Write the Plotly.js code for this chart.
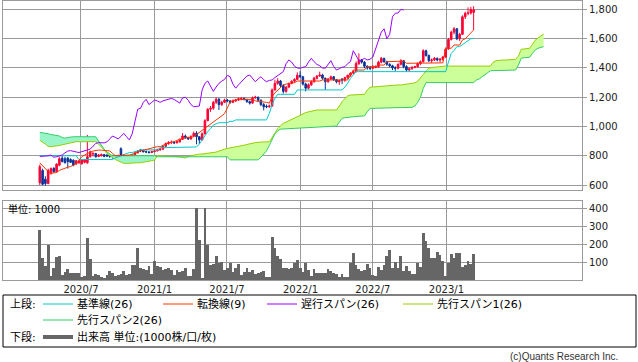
<!DOCTYPE html>
<html><head><meta charset="utf-8">
<script src="https://cdn.plot.ly/plotly-3.0.1.min.js"></script>
<style>html,body{margin:0;padding:0;background:#fff}#c{width:638px;height:362px}</style>
</head><body><div id="c"></div><script>
// weekly candles (start week 2020-03-20), 156 weeks; spans run 25 weeks further
const opens=[615,700,640,610,680,714,691,735,784,780,
784,775,770,743,752,745,755,752,793,812,
815,795,800,808,805,805,800,790,795,848,
805,788,793,798,805,820,840,835,828,826,
822,828,833,840,845,865,884,890,891,888,
895,912,935,925,915,935,955,930,908,950,
1040,1118,1125,1165,1186,1150,1165,1181,1175,1165,
1175,1182,1190,1192,1185,1170,1160,1195,1200,1180,
1150,1140,1135,1140,1250,1295,1311,1280,1240,1270,
1295,1310,1322,1350,1340,1290,1262,1285,1306,1330,
1345,1352,1330,1306,1325,1340,1320,1306,1325,1318,
1335,1350,1365,1375,1430,1455,1440,1412,1400,1398,
1405,1409,1440,1466,1443,1425,1415,1400,1398,1425,
1450,1410,1386,1395,1405,1409,1430,1443,1518,1485,
1450,1455,1466,1455,1460,1475,1530,1595,1645,1668,
1600,1630,1750,1774,1776,1780];
const highs=[740,712,660,712,720,722,748,790,798,792,
790,782,775,770,772,775,778,942,835,825,
820,812,815,812,810,812,806,805,808,858,
812,800,805,810,825,838,845,842,835,832,
835,840,848,852,872,890,900,905,902,900,
918,955,945,930,940,965,968,935,960,1050,
1125,1140,1175,1200,1195,1175,1190,1188,1180,1185,
1190,1198,1200,1198,1190,1178,1205,1210,1205,1185,
1160,1150,1150,1260,1320,1330,1318,1290,1275,1300,
1315,1330,1370,1378,1345,1300,1295,1315,1340,1352,
1375,1360,1335,1332,1348,1345,1325,1320,1330,1340,
1355,1370,1385,1445,1500,1462,1448,1418,1412,1420,
1418,1450,1475,1470,1450,1432,1422,1412,1432,1460,
1455,1418,1402,1412,1415,1438,1452,1528,1525,1492,
1465,1475,1472,1468,1482,1540,1605,1655,1680,1672,
1640,1760,1785,1815,1818,1822];
const lows=[600,598,595,605,670,685,688,728,755,748,
712,750,728,738,745,740,748,745,788,795,
788,790,795,790,792,785,780,785,790,770,
778,782,788,792,800,815,825,822,818,815,
818,825,830,835,842,860,875,880,880,885,
890,908,915,908,910,928,878,880,905,945,
1035,1100,1115,1155,1113,1140,1160,1165,1155,1160,
1168,1175,1180,1178,1162,1150,1155,1190,1172,1140,
1110,1125,1128,1135,1245,1285,1270,1225,1230,1262,
1288,1300,1318,1332,1280,1240,1255,1278,1300,1322,
1340,1320,1250,1300,1318,1312,1295,1285,1290,1305,
1325,1340,1355,1370,1420,1430,1398,1388,1385,1392,
1398,1402,1432,1435,1415,1405,1385,1380,1390,1418,
1398,1375,1380,1388,1398,1402,1420,1438,1478,1440,
1435,1448,1445,1440,1450,1470,1525,1588,1630,1590,
1585,1625,1735,1760,1765,1660];
const closes=[725,605,610,700,712,691,743,780,760,752,
760,755,735,766,765,770,772,793,827,815,
793,805,808,795,798,795,795,797,800,805,
790,793,798,805,820,832,835,828,826,822,
828,833,840,845,865,884,890,891,888,895,
912,935,925,915,932,953,930,908,950,1040,
1118,1125,1165,1186,1150,1165,1181,1175,1165,1175,
1182,1190,1192,1185,1170,1160,1195,1200,1180,1150,
1135,1135,1140,1250,1295,1311,1280,1240,1270,1295,
1310,1322,1350,1340,1290,1262,1285,1306,1330,1345,
1352,1330,1306,1325,1340,1320,1306,1315,1318,1335,
1350,1365,1375,1430,1455,1440,1412,1400,1398,1405,
1409,1440,1466,1443,1425,1415,1400,1398,1425,1450,
1410,1386,1395,1405,1409,1430,1443,1518,1485,1450,
1455,1466,1455,1460,1475,1530,1595,1645,1668,1600,
1630,1750,1774,1776,1800,1797];
const volume=[278,120,78,194,20,65,128,132,28,46,
59,41,41,41,37,15,22,237,115,22,
33,28,19,9,26,52,37,22,28,33,
52,28,33,83,83,176,65,61,56,78,
33,106,78,70,56,61,65,56,28,56,
46,52,65,22,25,60,404,222,10,404,
194,83,87,133,93,102,56,65,93,46,
65,89,28,46,65,46,56,33,40,46,
50,19,19,241,180,133,115,65,65,61,
69,93,111,69,46,96,56,22,59,37,
41,37,41,61,50,37,33,19,33,15,
19,96,152,83,59,52,56,89,65,28,
22,74,56,81,133,167,65,98,65,133,
52,78,52,33,33,96,74,263,217,176,
124,120,154,139,106,22,93,144,120,148,
152,74,83,107,87,144];
const tenkan=[752,730,710,692,680,680,685,700,708,716,
722,726,737,746,770,793,805,816,825,832,
838,839,838,836,835,833,816,800,800,800,
800,800,805,810,815,825,833,838,843,850,
855,860,862,862,872,882,888,893,896,905,
913,918,922,926,928,930,945,960,975,990,
1003,1018,1033,1045,1058,1072,1088,1125,1168,1178,
1182,1183,1184,1185,1186,1186,1186,1176,1170,1170,
1170,1165,1160,1204,1230,1250,1270,1284,1290,1295,
1295,1300,1311,1311,1311,1311,1311,1311,1311,1311,
1311,1318,1318,1318,1318,1318,1318,1318,1318,1318,
1318,1352,1386,1386,1386,1386,1386,1409,1409,1409,
1409,1420,1420,1420,1443,1443,1443,1447,1447,1447,
1447,1432,1432,1432,1432,1432,1435,1435,1435,1435,
1435,1435,1435,1435,1435,1535,1535,1535,1557,1557,
1557,1591,1600,1620,1640,1660];
const kijun=[800,800,800,800,800,800,800,800,800,800,
800,800,800,800,774,774,774,774,774,774,
774,774,774,774,774,774,774,785,793,800,
805,815,822,822,828,833,840,840,840,840,
840,840,840,855,855,855,855,860,860,860,
860,860,860,860,860,860,860,880,908,940,
965,985,1010,1018,1026,1026,1026,1026,1035,1035,
1045,1045,1045,1045,1045,1045,1045,1045,1045,1045,
1045,1045,1090,1150,1193,1220,1220,1220,1220,1220,
1220,1220,1250,1250,1250,1250,1250,1250,1250,1250,
1250,1250,1250,1250,1250,1250,1250,1250,1250,1270,
1295,1330,1352,1375,1375,1375,1375,1375,1375,1375,
1375,1375,1375,1375,1375,1375,1375,1375,1375,1375,
1375,1375,1375,1375,1375,1375,1375,1375,1375,1375,
1375,1375,1375,1375,1375,1375,1440,1500,1520,1546,
1546,1560,1575,1590,1600,1603];
const span1=[905,895,880,865,862,865,866,870,875,880,
885,890,893,896,896,896,896,896,896,896,
896,880,862,840,815,800,785,775,765,755,
748,748,750,750,752,752,752,755,757,759,
762,770,800,800,800,800,798,795,795,793,
793,790,784,795,800,805,808,811,812,814,
815,818,820,825,832,840,845,850,853,856,
859,863,867,872,877,883,888,890,892,894,
895,896,896,925,960,985,1005,1022,1030,1040,
1050,1060,1070,1080,1090,1095,1100,1105,1110,1113,
1113,1113,1113,1113,1113,1113,1113,1140,1170,1190,
1210,1215,1217,1218,1219,1220,1220,1250,1268,1270,
1272,1274,1276,1278,1280,1282,1283,1284,1284,1284,
1286,1290,1292,1295,1298,1310,1330,1355,1380,1400,
1403,1406,1408,1409,1410,1413,1413,1413,1413,1413,
1413,1413,1413,1413,1413,1413,1413,1413,1413,1413,
1413,1413,1440,1450,1452,1454,1455,1456,1457,1458,
1459,1480,1528,1530,1533,1535,1560,1591,1605,1620,
1632];
const span2=[960,958,957,950,945,942,938,935,925,920,
925,930,930,930,930,930,930,930,930,930,
930,900,870,845,825,810,800,800,800,800,
800,800,800,800,800,800,800,800,800,800,
800,800,793,793,793,793,793,793,793,793,
793,793,793,793,793,793,793,793,793,793,
793,793,793,793,793,793,793,793,772,772,
772,772,772,772,772,772,772,772,772,790,
815,833,870,908,950,970,982,983,984,985,
986,987,988,988,990,991,992,993,994,995,
995,996,997,998,999,1000,1003,1030,1056,1060,
1063,1067,1068,1069,1070,1071,1072,1100,1124,1124,
1125,1125,1126,1126,1127,1127,1128,1128,1129,1129,
1130,1130,1131,1131,1140,1165,1200,1260,1300,1300,
1300,1300,1300,1300,1300,1300,1300,1300,1300,1300,
1300,1300,1300,1300,1300,1300,1318,1325,1340,1352,
1365,1381,1382,1383,1384,1385,1385,1386,1386,1386,
1386,1420,1466,1470,1473,1473,1500,1523,1535,1540,
1546];
const tickDates=['2020-07-01','2021-01-01','2021-07-01','2022-01-01','2022-07-01','2023-01-01'];
const tickLabels=['2020/7','2021/1','2021/7','2022/1','2022/7','2023/1'];
const priceTicks=[600,800,1000,1200,1400,1600,1800];
const volTicks=[100,200,300,400];
const CHIKOU_SHIFT=25;

const dates=[];
for(let i=0;i<span1.length;i++){dates.push(new Date(Date.UTC(2020,2,20)+i*7*86400000).toISOString().slice(0,10));}
const cd=dates.slice(0,closes.length);

const C={kijun:'#00c8c8',tenkan:'#ff3300',chikou:'#9900ff',s1:'#99cc00',s2:'#33cc66',mint:'#99f5c8',lime:'#ccff99',up:'#ff0033',dn:'#0a3399',vol:'#666666'};
const cut=42;
const traces=[
 {type:'scatter',mode:'lines',x:dates.slice(0,cut+1),y:span2.slice(0,cut+1),line:{width:0},xaxis:'x2',yaxis:'y2'},
 {type:'scatter',mode:'lines',x:dates.slice(0,cut+1),y:span1.slice(0,cut+1),line:{width:0},fill:'tonexty',fillcolor:C.mint,xaxis:'x2',yaxis:'y2'},
 {type:'scatter',mode:'lines',x:dates.slice(cut-1),y:span2.slice(cut-1),line:{width:0},xaxis:'x2',yaxis:'y2'},
 {type:'scatter',mode:'lines',x:dates.slice(cut-1),y:span1.slice(cut-1),line:{width:0},fill:'tonexty',fillcolor:C.lime,xaxis:'x2',yaxis:'y2'},
 {type:'scatter',mode:'lines',x:dates,y:span1,line:{color:C.s1,width:1},xaxis:'x2',yaxis:'y2'},
 {type:'scatter',mode:'lines',x:dates,y:span2,line:{color:C.s2,width:1},xaxis:'x2',yaxis:'y2'},
 {type:'scatter',mode:'lines',x:cd,y:kijun,line:{color:C.kijun,width:1},xaxis:'x2',yaxis:'y2'},
 {type:'scatter',mode:'lines',x:cd,y:tenkan,line:{color:C.tenkan,width:1},xaxis:'x2',yaxis:'y2'},
 {type:'scatter',mode:'lines',x:cd.slice(0,closes.length-CHIKOU_SHIFT),y:closes.slice(CHIKOU_SHIFT),line:{color:C.chikou,width:1},xaxis:'x2',yaxis:'y2'},
 {type:'candlestick',x:cd,open:opens,high:highs,low:lows,close:closes,xaxis:'x2',yaxis:'y2',whiskerwidth:0,
  increasing:{line:{color:C.up,width:1},fillcolor:C.up},decreasing:{line:{color:C.dn,width:1},fillcolor:C.dn}},
 {type:'bar',x:cd,y:volume,marker:{color:C.vol,line:{width:0}},xaxis:'x',yaxis:'y'}
];

const L=3,R=582,B=280,T=1;
const px=x=>(x-L)/(R-L), py=y=>(B-y)/(B-T);
const tf={family:'DejaVu Sans',size:10,color:'#222'};
const xr=['2019-12-19','2023-12-06'];
const gx={type:'date',range:xr,tickvals:tickDates,ticktext:tickLabels,showgrid:true,gridcolor:'#9a9a9a',gridwidth:1,
  showline:true,mirror:true,linecolor:'#9a9a9a',linewidth:1,ticks:'',zeroline:false,rangeslider:{visible:false},tickfont:tf,fixedrange:true};
const gy={side:'right',showgrid:true,gridcolor:'#9a9a9a',gridwidth:1,showline:true,mirror:true,linecolor:'#9a9a9a',linewidth:1,
  ticks:'outside',ticklen:4,tickcolor:'#9a9a9a',zeroline:false,tickfont:tf,fixedrange:true};
const lf={family:'DejaVu Sans, Noto Sans CJK JP',size:11,color:'#000'};
const legendItems=[
 {row:304,x0:43,label:'基準線(26)',color:C.kijun},
 {row:304,x0:163,label:'転換線(9)',color:C.tenkan},
 {row:304,x0:267,label:'遅行スパン(26)',color:C.chikou},
 {row:304,x0:403,label:'先行スパン1(26)',color:C.s1},
 {row:320,x0:43,label:'先行スパン2(26)',color:C.s2}
];
const shapes=[{type:'rect',xref:'paper',yref:'paper',x0:px(3),x1:px(636),y0:py(347),y1:py(295),line:{color:'#000',width:1}}];
const ann=[];
function txt(x,y,t,f,anchor){ann.push({xref:'paper',yref:'paper',x:px(x),y:py(y),text:t,showarrow:false,xanchor:anchor||'left',yanchor:'middle',font:f,borderpad:0});}
legendItems.forEach(it=>{
 shapes.push({type:'line',xref:'paper',yref:'paper',x0:px(it.x0),x1:px(it.x0+30),y0:py(it.row),y1:py(it.row),line:{color:it.color,width:1}});
 txt(it.x0+33,it.row,it.label,lf);
});
shapes.push({type:'line',xref:'paper',yref:'paper',x0:px(43),x1:px(73),y0:py(337),y1:py(337),line:{color:C.vol,width:4}});
txt(9,304,'上段:',lf);
txt(9,337,'下段:',lf);
txt(76,337,'出来高 単位:(1000株/口/枚)',lf);
txt(7,209,'単位: 1000',{family:'DejaVu Sans, Noto Sans CJK JP',size:10,color:'#000'});
txt(619,356,'(c)Quants Research Inc.',{family:'Liberation Sans',size:10,color:'#333'},'right');

const layout={width:638,height:362,margin:{l:L,r:638-R,t:T,b:362-B},paper_bgcolor:'#fff',plot_bgcolor:'#fff',showlegend:false,
 bargap:0,boxgap:0.2,
 xaxis:Object.assign({},gx,{anchor:'y',domain:[0,1]}),
 xaxis2:Object.assign({},gx,{anchor:'y2',domain:[0,1],showticklabels:false}),
 yaxis:Object.assign({},gy,{anchor:'x',domain:[0,py(201)],range:[0,440.7],tickvals:volTicks}),
 yaxis2:Object.assign({},gy,{anchor:'x2',domain:[py(190.3),1],range:[563.8,1858],tickvals:priceTicks,tickformat:','}),
 shapes:shapes,annotations:ann};
Plotly.newPlot('c',traces,layout,{staticPlot:true,displayModeBar:false});
</script></body></html>
